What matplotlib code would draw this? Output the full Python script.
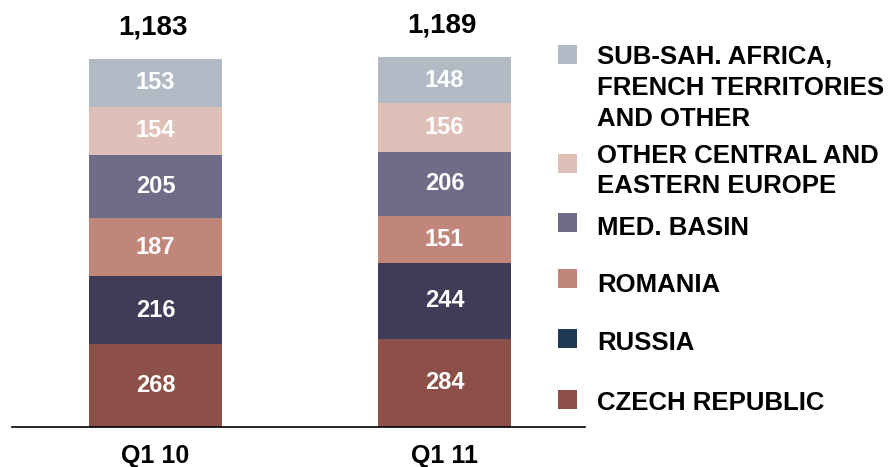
import numpy as np
import matplotlib.pyplot as plt
from matplotlib.patches import Rectangle

plt.rcParams['font.family'] = ['Liberation Sans', 'DejaVu Sans']
plt.rcParams['font.weight'] = 'bold'

quarters = ['Q1 10', 'Q1 11']
segments = ['CZECH REPUBLIC', 'RUSSIA', 'ROMANIA', 'MED. BASIN',
            'OTHER CENTRAL AND\nEASTERN EUROPE',
            'SUB-SAH. AFRICA,\nFRENCH TERRITORIES\nAND OTHER']
czech = [268, 284]
russia = [216, 244]
romania = [187, 151]
med_basin = [205, 206]
other_cee = [154, 156]
sub_sah = [153, 148]
totals = [1183, 1189]

values = [czech, russia, romania, med_basin, other_cee, sub_sah]
bar_colors = ['#8D5048', '#403C58', '#C0867A', '#6E6C86', '#DEC0B9', '#B2BAC6']
legend_colors = ['#8D5048', '#203A55', '#C0867A', '#6E6C86', '#DEC0B9', '#B2BAC6']

W, H = 896, 467
fig = plt.figure(figsize=(W / 100, H / 100), dpi=100)
ax = fig.add_axes([12 / W, (H - 427) / H, 573 / W, 427 / H])

x = np.arange(len(quarters))
bottom = np.zeros(len(quarters))
for vals, col in zip(values, bar_colors):
    ax.bar(x, vals, width=0.46, bottom=bottom, color=col, edgecolor='none')
    for xi, b, v in zip(x, bottom, vals):
        ax.text(xi, b + v / 2, str(v), ha='center', va='center',
                color='white', fontsize=17, fontweight='bold')
    bottom += np.array(vals)

for xi, tot, top in zip(x, totals, bottom):
    ax.annotate(f'{tot:,}', (xi - 0.01, top), xytext=(0, 23),
                textcoords='offset points', ha='center', va='center',
                fontsize=20, fontweight='bold')

ax.set_xlim(-0.4964, 1.4861)
ax.set_ylim(0, 1373)
ax.set_xticks(x)
ax.set_xticklabels(quarters, fontsize=18, fontweight='bold')
ax.tick_params(axis='x', length=0, pad=12)
ax.set_yticks([])
for s in ['top', 'right', 'left']:
    ax.spines[s].set_visible(False)
ax.spines['bottom'].set_color('black')
ax.spines['bottom'].set_linewidth(1.2)

# legend drawn by hand, top entry first
sq_y = [54.5, 163.5, 222.5, 278.5, 338.5, 399.5]
txt_y = [88, 171, 228, 285, 343, 403]
labels_top = segments[::-1]
cols_top = legend_colors[::-1]
for lab, col, sy, ty in zip(labels_top, cols_top, sq_y, txt_y):
    fig.add_artist(Rectangle((558 / W, (H - sy - 9.5) / H), 19 / W, 19 / H,
                             transform=fig.transFigure, color=col, lw=0))
    fig.text(597 / W, (H - ty) / H, lab, ha='left', va='center',
             fontsize=18.5, fontweight='bold', linespacing=1.36)

fig.savefig('out.png', dpi=100)
